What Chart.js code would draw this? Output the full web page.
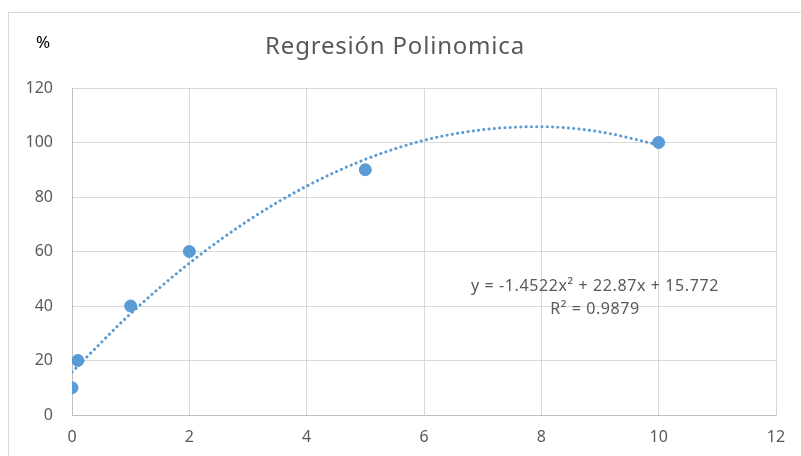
<!DOCTYPE html>
<html>
<head>
<meta charset="utf-8">
<script src="https://cdn.jsdelivr.net/npm/chart.js@4"></script>
<style>
  html, body { margin: 0; padding: 0; background: #fff; }
  #wrap { position: relative; width: 801px; height: 456px; overflow: hidden; }
  #frame { position: absolute; left: 8px; top: 12px; width: 820px; height: 470px; border: 1px solid #d9d9d9; }
  canvas { position: absolute; left: 0; top: 0; }
</style>
</head>
<body>
<div id="wrap">
  <div id="frame"></div>
  <canvas id="chart" width="801" height="456"></canvas>
</div>
<script>
// measured points
const xValues = [0, 0.1, 1, 2, 5, 10];
const yValues = [10, 20, 40, 60, 90, 100];

// dotted trendline
const trendX = [0, 1, 2, 3, 4, 5, 6, 7, 8, 9, 10];
const trendY = [15.8, 37.2, 55.7, 71.3, 84.0, 93.8, 100.8, 104.7, 105.8, 103.9, 99.1];

const xTicks = [0, 2, 4, 6, 8, 10, 12];
const yTicks = [0, 20, 40, 60, 80, 100, 120];

const titleText = 'Regresión Polinomica';
const yUnit = '%';
const equationText = 'y = -1.4522x² + 22.87x + 15.772';
const r2Text = 'R² = 0.9879';

const blue = '#5b9bd5';
const textGray = '#595959';
const font = '"Noto Sans", sans-serif';

const labelsPlugin = {
  id: 'labels',
  afterDraw(chart) {
    const ctx = chart.ctx;
    ctx.save();
    ctx.fillStyle = textGray;
    ctx.textAlign = 'center';
    ctx.textBaseline = 'middle';
    ctx.font = '24px ' + font;
    ctx.letterSpacing = '0.8px';
    ctx.fillText(titleText, 395, 47);

    ctx.fillStyle = '#000';
    ctx.letterSpacing = '0px';
    ctx.font = '17px ' + font;
    ctx.fillText(yUnit, 43, 43);

    ctx.fillStyle = textGray;
    ctx.font = '16px ' + font;
    ctx.letterSpacing = '0.6px';
    ctx.fillText(equationText, 595, 286);
    ctx.fillText(r2Text, 595, 309);
    ctx.restore();
  }
};

new Chart(document.getElementById('chart'), {
  type: 'scatter',
  data: {
    datasets: [
      {
        label: 'datos',
        data: xValues.map((x, i) => ({ x, y: yValues[i] })),
        backgroundColor: blue,
        borderColor: blue,
        pointRadius: 6,
        pointHoverRadius: 6,
        order: 0,
      },
      {
        label: 'tendencia',
        type: 'line',
        data: trendX.map((x, i) => ({ x, y: trendY[i] })),
        borderColor: blue,
        borderWidth: 3,
        borderDash: [0.1, 5.2],
        borderCapStyle: 'round',
        pointRadius: 0,
        tension: 0.4,
        cubicInterpolationMode: 'monotone',
        fill: false,
        order: 1,
      },
    ],
  },
  options: {
    responsive: false,
    animation: false,
    layout: { padding: { top: 88, right: 25, left: 0, bottom: 0 } },
    plugins: {
      legend: { display: false },
      tooltip: { enabled: false },
    },
    scales: {
      x: {
        type: 'linear',
        min: 0,
        max: 12,
        afterBuildTicks: (scale) => { scale.ticks = xTicks.map(v => ({ value: v })); },
        afterFit: (scale) => { scale.height = 41; },
        grid: { color: '#d9d9d9', drawTicks: false },
        border: { color: '#bfbfbf' },
        ticks: { color: textGray, font: { family: font, size: 16 }, padding: 13 },
      },
      y: {
        min: 0,
        max: 120,
        afterBuildTicks: (scale) => { scale.ticks = yTicks.map(v => ({ value: v })); },
        afterFit: (scale) => { scale.width = 72; },
        grid: { color: '#d9d9d9', drawTicks: false },
        border: { color: '#bfbfbf' },
        ticks: { color: textGray, font: { family: font, size: 16 }, padding: 19 },
      },
    },
  },
  plugins: [labelsPlugin],
});
</script>
</body>
</html>
